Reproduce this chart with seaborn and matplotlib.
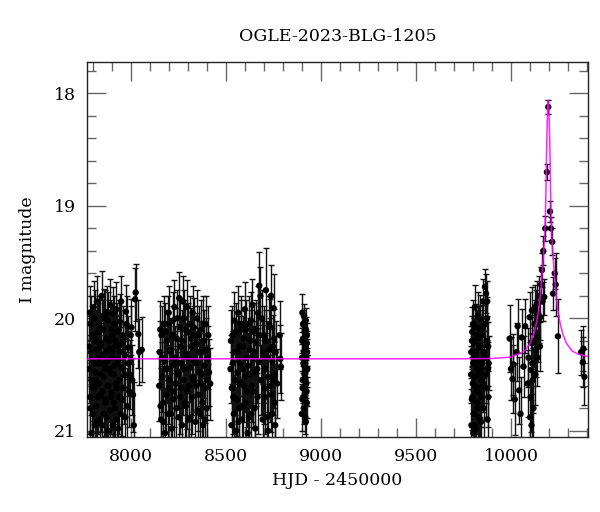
import numpy as np
import pandas as pd
import matplotlib
matplotlib.use("Agg")
import matplotlib.pyplot as plt
import seaborn as sns
from matplotlib.ticker import MultipleLocator

# ---------------- data ----------------
# season 1
t1 = [7780, 7784, 7787, 7791, 7794, 7798, 7801, 7805,
      7808, 7812, 7815, 7819, 7822, 7826, 7829, 7833,
      7836, 7840, 7843, 7847, 7850, 7854, 7857, 7861,
      7864, 7868, 7871, 7875, 7878, 7882, 7885, 7889,
      7892, 7896, 7899, 7903, 7906, 7910, 7913, 7917,
      7920, 7924, 7927, 7931, 7934, 7938, 7941, 7945,
      7950, 7955, 7960, 7966, 7972, 7978, 7985, 7992,
      8000, 8008, 8016, 8023, 8026, 8040, 8045, 8058]
m1 = [20.45, 19.95, 20.80, 20.30, 21.02, 20.15, 20.60, 19.90,
      20.40, 20.95, 20.20, 20.55, 19.85, 20.70, 20.35, 20.05,
      20.90, 20.25, 20.50, 19.80, 20.65, 20.10, 20.85, 20.40,
      20.00, 20.75, 20.30, 19.95, 20.60, 21.00, 20.20, 20.45,
      19.88, 20.70, 20.35, 20.15, 20.95, 20.50, 20.05, 20.80,
      20.25, 19.92, 20.62, 20.40, 20.98, 20.10, 20.55, 20.30,
      19.85, 20.72, 20.20, 20.50, 20.88, 20.05, 20.40, 20.65,
      20.15, 20.55, 20.95, 19.83, 19.77, 20.14, 20.30, 20.28]
e1 = [0.30, 0.24, 0.34, 0.28, 0.40, 0.26, 0.31, 0.23,
      0.29, 0.38, 0.27, 0.30, 0.23, 0.33, 0.28, 0.25,
      0.36, 0.27, 0.31, 0.22, 0.32, 0.26, 0.35, 0.29,
      0.25, 0.34, 0.28, 0.24, 0.31, 0.39, 0.27, 0.30,
      0.23, 0.33, 0.29, 0.26, 0.37, 0.30, 0.25, 0.34,
      0.27, 0.24, 0.32, 0.29, 0.40, 0.26, 0.31, 0.28,
      0.23, 0.33, 0.27, 0.30, 0.36, 0.25, 0.29, 0.32,
      0.26, 0.31, 0.38, 0.28, 0.25, 0.30, 0.29, 0.29]
t1b = [7782, 7786, 7789, 7793, 7796, 7800, 7803, 7807,
       7810, 7814, 7817, 7821, 7824, 7828, 7831, 7835,
       7838, 7842, 7845, 7849, 7852, 7856, 7859, 7863,
       7866, 7870, 7873, 7877, 7880, 7884, 7887, 7891,
       7894, 7898, 7901, 7905, 7908, 7912, 7915, 7919,
       7922, 7926, 7929, 7933, 7936, 7940, 7943, 7947,
       7952, 7957, 7963, 7969, 7975, 7981, 7988, 7996,
       8004, 8012]
m1b = [20.25, 20.70, 20.05, 20.55, 20.35, 20.85, 20.15, 20.62,
       20.00, 20.48, 20.78, 20.28, 20.92, 20.12, 20.58, 20.40,
       20.08, 20.68, 20.22, 20.95, 20.32, 20.52, 19.98, 20.72,
       20.45, 20.18, 20.88, 20.38, 20.02, 20.60, 20.27, 20.82,
       20.48, 20.10, 20.66, 20.30, 19.96, 20.75, 20.42, 20.20,
       20.58, 20.90, 20.12, 20.36, 20.70, 20.24, 20.03, 20.85,
       20.44, 20.15, 20.62, 20.33, 19.94, 20.78, 20.26, 20.50,
       20.08, 20.68]
e1b = [0.27, 0.33, 0.25, 0.31, 0.28, 0.35, 0.26, 0.32,
       0.25, 0.30, 0.34, 0.28, 0.37, 0.26, 0.31, 0.29,
       0.25, 0.33, 0.27, 0.38, 0.28, 0.31, 0.24, 0.33,
       0.30, 0.26, 0.36, 0.29, 0.25, 0.32, 0.28, 0.35,
       0.30, 0.26, 0.33, 0.28, 0.24, 0.34, 0.29, 0.27,
       0.31, 0.37, 0.26, 0.29, 0.33, 0.27, 0.25, 0.35,
       0.30, 0.26, 0.32, 0.28, 0.24, 0.34, 0.28, 0.31,
       0.25, 0.33]

# season 2
t2 = [8150, 8155, 8160, 8165, 8170, 8175, 8180, 8185,
      8190, 8195, 8200, 8205, 8210, 8215, 8220, 8225,
      8230, 8235, 8240, 8245, 8250, 8255, 8260, 8265,
      8270, 8275, 8280, 8285, 8290, 8295, 8300, 8305,
      8310, 8315, 8320, 8325, 8330, 8335, 8340, 8345,
      8350, 8355, 8360, 8365, 8370, 8375, 8380, 8385,
      8390, 8395, 8400, 8405, 8412, 8418]
m2 = [20.60, 20.10, 20.90, 20.35, 20.75, 20.05, 21.02, 20.45,
      20.20, 20.85, 19.95, 20.55, 20.30, 20.98, 20.15, 20.65,
      19.90, 20.40, 20.80, 20.00, 20.50, 19.82, 20.70, 20.25,
      20.95, 19.85, 20.45, 20.10, 20.78, 19.90, 20.35, 20.60,
      20.05, 20.88, 20.25, 19.95, 20.55, 20.15, 20.92, 20.40,
      20.00, 20.68, 20.30, 20.85, 20.10, 20.50, 20.95, 20.20,
      20.62, 20.05, 20.80, 20.35, 20.48, 20.58]
e2 = [0.31, 0.25, 0.36, 0.28, 0.33, 0.25, 0.40, 0.30,
      0.27, 0.35, 0.24, 0.31, 0.28, 0.39, 0.26, 0.32,
      0.24, 0.29, 0.34, 0.25, 0.30, 0.23, 0.33, 0.27,
      0.37, 0.23, 0.30, 0.26, 0.34, 0.24, 0.28, 0.31,
      0.25, 0.36, 0.27, 0.24, 0.31, 0.26, 0.37, 0.29,
      0.25, 0.32, 0.28, 0.35, 0.26, 0.30, 0.38, 0.27,
      0.31, 0.25, 0.34, 0.28, 0.30, 0.32]
t2b = [8152, 8157, 8162, 8167, 8172, 8177, 8182, 8187,
       8192, 8197, 8202, 8207, 8212, 8217, 8222, 8227,
       8232, 8237, 8242, 8247, 8252, 8257, 8262, 8267,
       8272, 8277, 8282, 8287, 8292, 8297, 8302, 8307,
       8312, 8317, 8322, 8327, 8332, 8337, 8342, 8347,
       8352, 8357, 8362, 8367, 8372, 8377, 8382, 8387,
       8392, 8397, 8402, 8408]
m2b = [20.30, 20.78, 20.15, 20.52, 20.92, 20.38, 20.12, 20.68,
       20.45, 20.05, 20.62, 20.28, 20.85, 20.42, 20.02, 20.72,
       20.35, 20.58, 20.18, 20.48, 20.88, 20.08, 20.40, 20.62,
       20.20, 20.55, 20.00, 20.75, 20.32, 20.65, 20.12, 20.90,
       20.44, 20.18, 20.70, 20.52, 20.08, 20.38, 20.60, 20.22,
       20.82, 20.15, 20.48, 20.58, 20.30, 20.75, 20.05, 20.42,
       20.90, 20.28, 20.55, 20.15]
e2b = [0.28, 0.34, 0.26, 0.31, 0.37, 0.29, 0.26, 0.33,
       0.30, 0.25, 0.32, 0.28, 0.36, 0.29, 0.25, 0.34,
       0.28, 0.31, 0.27, 0.30, 0.36, 0.26, 0.29, 0.32,
       0.27, 0.31, 0.25, 0.34, 0.28, 0.33, 0.26, 0.37,
       0.30, 0.27, 0.33, 0.31, 0.26, 0.29, 0.32, 0.27,
       0.35, 0.26, 0.30, 0.31, 0.28, 0.34, 0.25, 0.29,
       0.37, 0.28, 0.31, 0.26]

# season 3
t3 = [8525, 8530, 8535, 8540, 8545, 8550, 8555, 8560,
      8565, 8570, 8575, 8580, 8585, 8590, 8595, 8600,
      8605, 8610, 8615, 8620, 8625, 8630, 8635, 8640,
      8645, 8650, 8655, 8660, 8665, 8670, 8676, 8682,
      8688, 8694, 8700, 8706, 8711, 8716, 8722, 8728,
      8733, 8738, 8744, 8748, 8752, 8756, 8760, 8783,
      8787, 8790]
m3 = [20.45, 20.95, 20.15, 20.70, 20.02, 20.55, 21.00, 20.30,
      19.95, 20.80, 20.40, 20.10, 20.90, 20.25, 20.60, 19.92,
      20.75, 20.35, 21.02, 20.05, 20.50, 20.20, 20.85, 19.88,
      20.65, 20.30, 20.98, 20.10, 20.45, 19.95, 19.71, 19.80,
      20.55, 20.90, 20.15, 20.70, 19.75, 20.35, 21.00, 20.05,
      20.60, 19.80, 20.85, 20.25, 19.91, 20.50, 20.95, 20.15,
      20.36, 20.43]
e3 = [0.30, 0.37, 0.26, 0.33, 0.25, 0.31, 0.39, 0.28,
      0.24, 0.34, 0.29, 0.26, 0.36, 0.27, 0.32, 0.24,
      0.33, 0.28, 0.40, 0.25, 0.30, 0.27, 0.35, 0.23,
      0.32, 0.28, 0.38, 0.26, 0.30, 0.24, 0.30, 0.26,
      0.31, 0.36, 0.26, 0.33, 0.38, 0.29, 0.39, 0.25,
      0.32, 0.27, 0.35, 0.28, 0.30, 0.30, 0.37, 0.30,
      0.30, 0.30]
t3b = [8527, 8532, 8537, 8542, 8547, 8552, 8557, 8562,
       8567, 8572, 8577, 8582, 8587, 8592, 8597, 8602,
       8607, 8612, 8617, 8622, 8627, 8632, 8637, 8642,
       8647, 8652, 8657, 8662, 8667, 8672, 8678, 8684,
       8690, 8696, 8702, 8708, 8713, 8718, 8724, 8730,
       8735, 8740, 8745, 8750, 8754, 8758, 8762, 8770]
m3b = [20.20, 20.62, 20.40, 20.85, 20.30, 20.12, 20.72, 20.48,
       20.92, 20.25, 20.58, 20.05, 20.45, 20.78, 20.18, 20.52,
       20.10, 20.65, 20.42, 20.88, 20.28, 20.02, 20.60, 20.35,
       20.12, 20.80, 20.48, 20.22, 20.70, 20.38, 20.15, 20.55,
       20.00, 20.30, 20.62, 20.45, 20.20, 20.88, 20.52, 20.28,
       20.08, 20.68, 20.38, 20.55, 20.18, 20.75, 20.30, 20.58]
e3b = [0.27, 0.32, 0.29, 0.35, 0.28, 0.26, 0.33, 0.30,
       0.37, 0.27, 0.31, 0.25, 0.30, 0.34, 0.26, 0.31,
       0.26, 0.32, 0.29, 0.36, 0.28, 0.25, 0.32, 0.28,
       0.26, 0.34, 0.30, 0.27, 0.33, 0.29, 0.26, 0.31,
       0.25, 0.28, 0.32, 0.30, 0.27, 0.36, 0.31, 0.28,
       0.25, 0.33, 0.29, 0.31, 0.26, 0.34, 0.28, 0.31]

# season 4
t4 = [8900, 8902, 8903, 8905, 8906, 8908, 8909, 8911, 8912, 8914,
      8915, 8917, 8918, 8920, 8921, 8923, 8924, 8926, 8927, 8929,
      8901, 8904, 8907, 8910, 8913, 8916, 8919, 8922, 8925, 8928,
      8903, 8914, 8921, 8926]
m4 = [20.85, 20.20, 19.95, 20.55, 20.05, 20.40, 20.70, 19.98, 20.30, 20.62,
      20.12, 20.48, 20.88, 20.25, 20.02, 20.58, 20.35, 20.75, 20.15, 20.45,
      20.35, 20.62, 20.18, 20.80, 20.42, 20.28, 20.55, 20.10, 20.65, 20.30,
      20.72, 20.50, 20.92, 20.22]
e4 = [0.15, 0.11, 0.17, 0.13, 0.12, 0.12, 0.14, 0.11, 0.12, 0.13,
      0.11, 0.13, 0.15, 0.12, 0.11, 0.13, 0.12, 0.14, 0.11, 0.12,
      0.12, 0.13, 0.11, 0.14, 0.12, 0.12, 0.13, 0.11, 0.13, 0.12,
      0.14, 0.13, 0.15, 0.11]

# season 5
t5 = [9790, 9792, 9795, 9797, 9800, 9802, 9805, 9807, 9810, 9812,
      9815, 9817, 9820, 9822, 9825, 9827, 9830, 9832, 9835, 9837,
      9840, 9842, 9845, 9848, 9852, 9856, 9860, 9863, 9866, 9869,
      9872, 9875, 9877, 9879, 9881, 9883,
      9791, 9794, 9796, 9799, 9801, 9804, 9806, 9809, 9811, 9814,
      9816, 9819, 9821, 9824, 9826, 9829, 9831, 9834, 9836, 9839,
      9841, 9844, 9847, 9850, 9854, 9858, 9862, 9868, 9874, 9880]
m5 = [20.50, 20.95, 20.20, 20.70, 20.05, 21.02, 20.40, 20.85, 19.90, 20.60,
      20.30, 20.98, 20.15, 20.75, 19.98, 20.50, 20.88, 20.25, 20.65, 20.00,
      20.45, 20.92, 20.10, 20.55, 19.85, 20.80, 20.35, 19.72, 20.62, 19.78,
      20.20, 19.85, 20.90, 20.45, 20.70, 20.40,
      20.30, 20.72, 20.12, 20.58, 20.40, 20.85, 20.22, 20.52, 20.95, 20.35,
      20.08, 20.65, 20.45, 20.80, 20.18, 20.38, 20.62, 20.10, 20.48, 20.90,
      20.25, 20.70, 20.40, 20.15, 20.58, 20.30, 20.05, 20.50, 20.00, 20.25]
e5 = [0.25, 0.32, 0.22, 0.27, 0.21, 0.34, 0.24, 0.30, 0.20, 0.26,
      0.23, 0.33, 0.22, 0.28, 0.21, 0.25, 0.31, 0.23, 0.27, 0.21,
      0.24, 0.32, 0.22, 0.26, 0.20, 0.29, 0.24, 0.16, 0.26, 0.17,
      0.22, 0.18, 0.30, 0.24, 0.27, 0.24,
      0.23, 0.27, 0.22, 0.26, 0.24, 0.29, 0.22, 0.25, 0.33, 0.23,
      0.21, 0.26, 0.24, 0.29, 0.22, 0.24, 0.26, 0.21, 0.25, 0.31,
      0.22, 0.27, 0.24, 0.22, 0.25, 0.23, 0.20, 0.25, 0.19, 0.22]

# season 6 (the event)
t6 = [9993, 10000, 10008, 10013, 10020, 10029, 10035, 10043, 10050, 10056,
      10066, 10075, 10087, 10098, 10101, 10105, 10110, 10115, 10121, 10126,
      10131, 10136, 10142, 10149, 10154, 10163, 10170, 10175, 10180, 10189,
      10196, 10205, 10210, 10217, 10221, 10230, 10235, 10247,
      10092, 10103, 10108, 10113, 10118, 10124, 10128, 10133, 10139, 10145,
      10152, 10158, 10166, 10108]
m6 = [20.18, 20.45, 20.54, 20.41, 20.72, 20.30, 20.07, 20.64, 20.85, 20.17,
      20.43, 20.07, 20.58, 19.99, 20.88, 20.46, 19.93, 20.55, 20.20, 19.90,
      20.28, 19.87, 20.17, 19.80, 19.99, 19.57, 19.40, 19.81, 19.20, 18.70,
      18.12, 19.05, 19.20, 19.32, 19.78, 19.60, 19.70, 20.16,
      20.35, 20.70, 20.22, 20.40, 20.80, 20.05, 20.50, 19.95, 20.35, 20.02,
      20.25, 19.70, 19.85, 20.95]
e6 = [0.30, 0.28, 0.30, 0.27, 0.32, 0.26, 0.24, 0.30, 0.33, 0.25,
      0.27, 0.24, 0.30, 0.22, 0.33, 0.27, 0.21, 0.29, 0.23, 0.20,
      0.24, 0.20, 0.22, 0.18, 0.20, 0.15, 0.13, 0.16, 0.11, 0.07,
      0.06, 0.09, 0.10, 0.12, 0.15, 0.14, 0.28, 0.33,
      0.26, 0.31, 0.23, 0.27, 0.33, 0.21, 0.27, 0.20, 0.25, 0.20,
      0.22, 0.16, 0.17, 0.35]

# season 7
t7 = [10369, 10378, 10381, 10386]
m7 = [20.30, 20.39, 20.27, 20.52]
e7 = [0.20, 0.22, 0.20, 0.25]

# microlensing model curve
model_t = [7770, 9700, 9900, 9996, 10036, 10071, 10101, 10121, 10134, 10146,
           10156, 10164, 10172, 10177, 10181, 10184, 10186, 10188, 10190, 10193,
           10196, 10199, 10202, 10204, 10206, 10208, 10211, 10215, 10220, 10228,
           10236, 10246, 10258, 10271, 10291, 10321, 10356, 10405]
model_m = [20.36, 20.36, 20.357, 20.345, 20.32, 20.29, 20.22, 20.13, 20.04, 19.92,
           19.77, 19.60, 19.42, 19.28, 19.10, 18.85, 18.62, 18.45, 18.30, 18.12,
           18.06, 18.12, 18.30, 18.45, 18.62, 18.85, 19.10, 19.28, 19.42, 19.60,
           19.77, 19.92, 20.04, 20.13, 20.22, 20.29, 20.32, 20.34]

title = "OGLE-2023-BLG-1205"
xlabel = "HJD - 2450000"
ylabel = "I magnitude"

# ---------------- build table ----------------
rows = []
for ts, ms, es in [(t1, m1, e1), (t1b, m1b, e1b), (t2, m2, e2), (t2b, m2b, e2b),
                   (t3, m3, e3), (t3b, m3b, e3b), (t4, m4, e4), (t5, m5, e5),
                   (t6, m6, e6), (t7, m7, e7)]:
    for t, m, e in zip(ts, ms, es):
        rows.append((t, m, e))
df = pd.DataFrame(rows, columns=["t", "mag", "err"])
model = pd.DataFrame({"t": model_t, "mag": model_m})

# ---------------- plot ----------------
sns.set_theme(style="ticks")
plt.rcParams["font.family"] = ["DejaVu Serif"]
plt.rcParams["text.color"] = "black"
plt.rcParams["axes.labelcolor"] = "black"

fig = plt.figure(figsize=(6, 5.12), dpi=100)
ax = fig.add_axes([0.145, 0.1465, 0.835, 0.7325])

ax.errorbar(df["t"], df["mag"], yerr=df["err"], fmt="none",
            ecolor="#111111", elinewidth=1.0, capsize=2.3, capthick=1.0, zorder=2)
sns.scatterplot(data=df, x="t", y="mag", color="black", s=21,
                edgecolor="none", ax=ax, zorder=3)
sns.lineplot(data=model, x="t", y="mag", sort=False, color="#ff00ff",
             lw=1.1, alpha=0.85, ax=ax, zorder=4)

ax.set_xlim(7770, 10405)
ax.set_ylim(21.055, 17.72)
ax.xaxis.set_major_locator(MultipleLocator(500))
ax.xaxis.set_minor_locator(MultipleLocator(100))
ax.yaxis.set_major_locator(MultipleLocator(1))
ax.yaxis.set_minor_locator(MultipleLocator(0.2))
ax.tick_params(which="both", direction="in", top=True, right=True,
               color="#666666", width=1.0, labelsize=12.5, labelcolor="black")
ax.tick_params(which="major", length=13.5)
ax.tick_params(which="minor", length=6.5)
ax.tick_params(axis="x", pad=8)
ax.tick_params(axis="y", pad=8)
for sp in ax.spines.values():
    sp.set_color("#222222")
    sp.set_linewidth(1.0)

ax.set_xlabel(xlabel, fontsize=12.5, labelpad=5)
ax.set_ylabel(ylabel, fontsize=12.5, labelpad=13)
ax.set_title(title, fontsize=12.5, pad=15)

fig.savefig("out.png", dpi=100)
